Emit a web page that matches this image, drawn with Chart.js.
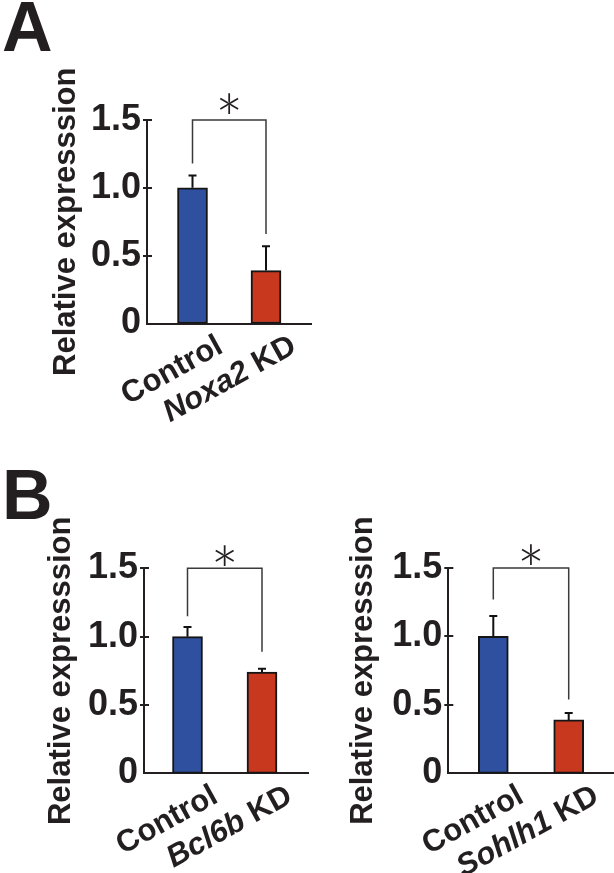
<!DOCTYPE html>
<html><head><meta charset="utf-8">
<script src="https://cdn.jsdelivr.net/npm/chart.js@4.4.0/dist/chart.umd.min.js"></script>
<style>
html,body{margin:0;padding:0;background:#fff;}
body{width:614px;height:873px;position:relative;overflow:hidden;}
.panel{position:absolute;font-family:"Liberation Sans",Arial,sans-serif;font-weight:bold;font-size:70px;line-height:1;color:#231f20;}
canvas{position:absolute;}
</style></head><body>
<div class="panel" style="left:2px;top:-8px">A</div>
<div class="panel" style="left:2px;top:460px">B</div>
<canvas id="ca" width="320" height="440" style="left:0;top:0"></canvas>
<canvas id="cb1" width="320" height="413" style="left:0;top:460px"></canvas>
<canvas id="cb2" width="314" height="413" style="left:300px;top:460px"></canvas>
<script>
// ---- data ----
const tickValues = [0, 0.5, 1.0, 1.5];
const tickLabels = ['0', '0.5', '1.0', '1.5'];
const yTitle = 'Relative expresssion';

const categoriesA = ['Control', 'Noxa2 KD'];
const italicGeneA = [false, true];
const valuesA = [1.0, 0.39];
const errorsA = [0.09, 0.18];
const bracketA = [1.18, 1.5, 0.66];   // left leg end, top, right leg end
const starA = '*';

const categoriesB1 = ['Control', 'Bcl6b KD'];
const italicGeneB1 = [false, true];
const valuesB1 = [1.0, 0.74];
const errorsB1 = [0.07, 0.025];
const bracketB1 = [1.15, 1.5, 0.89];
const starB1 = '*';

const categoriesB2 = ['Control', 'Sohlh1 KD'];
const italicGeneB2 = [false, true];
const valuesB2 = [1.0, 0.39];
const errorsB2 = [0.15, 0.05];
const bracketB2 = [1.27, 1.5, 0.54];
const starB2 = '*';

const barColors = ['#2f4f9f', '#c8381f'];
const INK = '#231f20';
const FAM = '"Liberation Sans", Arial, sans-serif';
const STAR_SIZE = 68;

function makeChart(id, cats, italics, vals, errs, bracket, star, g) {
  const canvas = document.getElementById(id);
  const W = canvas.width, H = canvas.height;
  const step = g.c2 - g.c1;
  const xmin = 1 - (g.c1 - g.axisX) / step;
  const xmax = 2 + (g.rightX - g.c2) / step;

  const extras = {
    id: 'extras_' + id,
    afterDatasetsDraw(chart) {
      const ctx = chart.ctx;
      const xs = chart.scales.x, ys = chart.scales.y;
      const axisX = chart.chartArea.left;
      const axisY = ys.getPixelForValue(0);
      ctx.save();
      // y tick marks crossing the axis
      ctx.strokeStyle = INK; ctx.lineWidth = 2;
      tickValues.forEach(v => {
        if (v === 0) return;
        const y = Math.round(ys.getPixelForValue(v));
        ctx.beginPath(); ctx.moveTo(axisX - 4, y); ctx.lineTo(axisX + 5, y); ctx.stroke();
      });
      // error bars (upper only)
      ctx.strokeStyle = '#111'; ctx.lineWidth = 2;
      vals.forEach((v, i) => {
        const x = xs.getPixelForValue(i + 1);
        const yb = ys.getPixelForValue(v);
        const yt = ys.getPixelForValue(v + errs[i]);
        ctx.beginPath(); ctx.moveTo(x, yb); ctx.lineTo(x, yt);
        ctx.moveTo(x - 4, yt); ctx.lineTo(x + 4, yt); ctx.stroke();
      });
      // significance bracket
      const x1 = xs.getPixelForValue(1), x2 = xs.getPixelForValue(2);
      ctx.strokeStyle = '#3a3a3a'; ctx.lineWidth = 1.5;
      ctx.beginPath();
      ctx.moveTo(x1, ys.getPixelForValue(bracket[0]));
      ctx.lineTo(x1, ys.getPixelForValue(bracket[1]));
      ctx.lineTo(x2, ys.getPixelForValue(bracket[1]));
      ctx.lineTo(x2, ys.getPixelForValue(bracket[2]));
      ctx.stroke();
      ctx.fillStyle = INK;
      ctx.font = '300 ' + STAR_SIZE + 'px Lato, "Liberation Sans", sans-serif';
      ctx.textAlign = 'center'; ctx.textBaseline = 'alphabetic';
      ctx.fillText(star, (x1 + x2) / 2, ys.getPixelForValue(bracket[1]) - g.starGap + 0.58 * STAR_SIZE);
      // x category labels, rotated, gene names italic
      const ang = 29 * Math.PI / 180;
      cats.forEach((c, i) => {
        const cx = xs.getPixelForValue(i + 1);
        let segs;
        if (italics[i]) {
          const sp = c.indexOf(' ');
          segs = [[c.slice(0, sp), 'italic bold 31px ' + FAM], [c.slice(sp), 'bold 31px ' + FAM]];
        } else {
          segs = [[c, 'bold 31px ' + FAM]];
        }
        let total = 0;
        segs.forEach(s => { ctx.font = s[1]; total += ctx.measureText(s[0]).width; });
        ctx.save();
        ctx.translate(cx + 32, axisY + 28);
        ctx.rotate(-ang);
        ctx.textAlign = 'left'; ctx.textBaseline = 'alphabetic';
        let x = -total;
        segs.forEach(s => { ctx.font = s[1]; ctx.fillText(s[0], x, 0); x += ctx.measureText(s[0]).width; });
        ctx.restore();
      });
      ctx.restore();
    }
  };

  return new Chart(canvas, {
    type: 'bar',
    data: {
      datasets: [{
        data: vals.map((v, i) => ({ x: i + 1, y: v })),
        backgroundColor: barColors,
        borderColor: '#151515',
        borderWidth: 2,
        borderSkipped: false,
        barThickness: 30
      }]
    },
    options: {
      responsive: false,
      animation: false,
      devicePixelRatio: 1,
      layout: { padding: { top: g.topY, right: W - g.rightX, left: 0, bottom: 0 } },
      plugins: { legend: { display: false }, tooltip: { enabled: false } },
      scales: {
        x: {
          type: 'linear', min: xmin, max: xmax,
          offset: false, bounds: 'data', grace: 0,
          grid: { display: false, drawTicks: false, offset: false },
          border: { display: true, color: INK, width: 2 },
          ticks: { display: false },
          afterFit: s => { s.height = H - g.bottomY; }
        },
        y: {
          min: 0, max: 1.5,
          afterBuildTicks: s => { s.ticks = tickValues.map(v => ({ value: v })); },
          ticks: {
            callback: v => tickLabels[tickValues.indexOf(v)],
            color: INK, padding: 6,
            font: { family: FAM, size: 36, weight: 'bold' }
          },
          grid: { display: false, drawTicks: false, tickLength: 0 },
          border: { display: true, color: INK, width: 2 },
          title: {
            display: true, text: yTitle, color: INK,
            font: { family: FAM, size: 31, weight: 'bold', lineHeight: 1.2 },
            padding: { top: g.titleX - 18.6, bottom: 0 }
          },
          afterFit: s => { s.width = g.axisX; }
        }
      }
    },
    plugins: [extras]
  });
}

makeChart('ca', categoriesA, italicGeneA, valuesA, errorsA, bracketA, starA,
  { axisX: 147, rightX: 311, topY: 120, bottomY: 323.5, c1: 192.5, c2: 266, titleX: 66, starGap: 14 });
makeChart('cb1', categoriesB1, italicGeneB1, valuesB1, errorsB1, bracketB1, starB1,
  { axisX: 144, rightX: 308, topY: 108.3, bottomY: 313.3, c1: 187.5, c2: 262, titleX: 61, starGap: 11 });
makeChart('cb2', categoriesB2, italicGeneB2, valuesB2, errorsB2, bracketB2, starB2,
  { axisX: 148.3, rightX: 314, topY: 108, bottomY: 313.3, c1: 193.3, c2: 268.7, titleX: 63.5, starGap: 11 });
</script>
</body></html>
